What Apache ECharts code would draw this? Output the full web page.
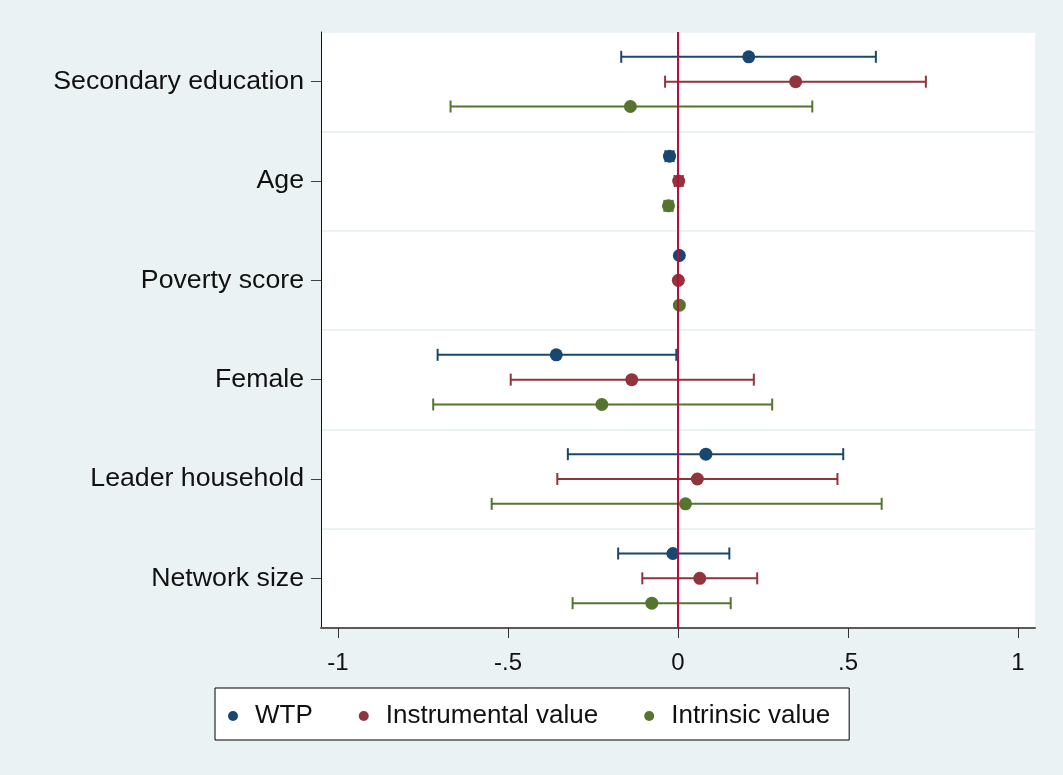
<!DOCTYPE html>
<html>
<head>
<meta charset="utf-8">
<script src="https://cdn.jsdelivr.net/npm/echarts@6/dist/echarts.min.js"></script>
<style>
  html, body { margin: 0; padding: 0; background: #eaf2f3; }
  #chart { width: 1063px; height: 775px; }
</style>
</head>
<body>
<div id="chart"></div>
<script>
const categories = ['Secondary education', 'Age', 'Poverty score', 'Female', 'Leader household', 'Network size']
const seriesNames = ['WTP', 'Instrumental value', 'Intrinsic value']

const wtpCoef = [0.208, -0.025, 0.004, -0.358, 0.082, -0.015]
const wtpLow = [-0.167, -0.037, 0.001, -0.707, -0.324, -0.176]
const wtpHigh = [0.582, -0.013, 0.007, -0.005, 0.486, 0.151]

const instrCoef = [0.346, 0.002, 0.001, -0.136, 0.057, 0.064]
const instrLow = [-0.038, -0.010, -0.002, -0.492, -0.355, -0.105]
const instrHigh = [0.729, 0.014, 0.004, 0.223, 0.469, 0.233]

const intrCoef = [-0.140, -0.028, 0.004, -0.224, 0.022, -0.077]
const intrLow = [-0.669, -0.040, 0.001, -0.720, -0.548, -0.310]
const intrHigh = [0.395, -0.016, 0.007, 0.277, 0.599, 0.155]

const xTickValues = [-1, -0.5, 0, 0.5, 1]
const xTickLabels = ['-1', '-.5', '0', '.5', '1']

const colors = ['#1a476f', '#90353b', '#55752f']
const font = "'Liberation Sans', Arial, sans-serif"

const groups = [
  { coef: wtpCoef, low: wtpLow, high: wtpHigh },
  { coef: instrCoef, low: instrLow, high: instrHigh },
  { coef: intrCoef, low: intrLow, high: intrHigh }
]
// vertical shift of each series inside a category band
const shifts = [-0.25, 0, 0.25]

const series = []
groups.forEach((g, k) => {
  const color = colors[k]
  series.push({
    name: seriesNames[k] + ' CI',
    type: 'custom',
    xAxisIndex: 0,
    yAxisIndex: 1,
    z: 2,
    silent: true,
    data: categories.map((c, i) => [g.low[i], g.high[i], i + 1 + shifts[k]]),
    encode: { x: [0, 1], y: 2 },
    renderItem: (params, api) => {
      const y = api.value(2)
      const lo = api.coord([api.value(0), y])
      const hi = api.coord([api.value(1), y])
      const h = 6
      const style = { stroke: color, lineWidth: 2 }
      return {
        type: 'group',
        children: [
          { type: 'line', shape: { x1: lo[0], y1: lo[1], x2: hi[0], y2: hi[1] }, style },
          { type: 'line', shape: { x1: lo[0], y1: lo[1] - h, x2: lo[0], y2: lo[1] + h }, style },
          { type: 'line', shape: { x1: hi[0], y1: hi[1] - h, x2: hi[0], y2: hi[1] + h }, style }
        ]
      }
    }
  })
  series.push({
    name: seriesNames[k],
    type: 'scatter',
    xAxisIndex: 0,
    yAxisIndex: 1,
    z: 4,
    symbol: 'circle',
    symbolSize: 13,
    itemStyle: { color: color, opacity: 1 },
    data: categories.map((c, i) => [g.coef[i], i + 1 + shifts[k]])
  })
})

// reference line at zero
series.push({
  name: 'ref',
  type: 'line',
  xAxisIndex: 0,
  yAxisIndex: 1,
  z: 3,
  data: [],
  markLine: {
    silent: true,
    symbol: 'none',
    label: { show: false },
    lineStyle: { color: '#c00a3c', width: 2, type: 'solid' },
    data: [{ xAxis: 0 }]
  }
})

const chart = echarts.init(document.getElementById('chart'))
chart.setOption({
  backgroundColor: '#eaf2f3',
  animation: false,
  textStyle: { fontFamily: font },
  grid: {
    left: 321,
    right: 28,
    top: 32,
    bottom: 147,
    show: true,
    backgroundColor: '#ffffff',
    borderWidth: 0
  },
  xAxis: {
    type: 'value',
    min: -1.05,
    max: 1.05,
    splitLine: { show: false },
    axisLine: { show: true, onZero: false, lineStyle: { color: '#5a5a5a', width: 2 } },
    axisTick: { show: true, length: 10, customValues: xTickValues, lineStyle: { color: '#333', width: 1 } },
    axisLabel: {
      customValues: xTickValues,
      margin: 23,
      fontSize: 24,
      color: '#111',
      fontFamily: font,
      formatter: (v) => {
        const idx = xTickValues.findIndex(t => Math.abs(t - v) < 1e-9)
        return idx >= 0 ? xTickLabels[idx] : ''
      }
    }
  },
  yAxis: [
    {
      type: 'category',
      data: categories,
      inverse: true,
      boundaryGap: true,
      axisLine: { show: true, onZero: false, lineStyle: { color: '#111', width: 1 } },
      axisTick: { show: true, alignWithLabel: true, length: 10, lineStyle: { color: '#444' } },
      axisLabel: { margin: 17, fontSize: 26.7, color: '#111', fontFamily: font, padding: [5, 0, 0, 0] },
      splitLine: { show: true, lineStyle: { color: '#eaf2f3', width: 2 } }
    },
    {
      type: 'value',
      min: 0.5,
      max: 6.5,
      inverse: true,
      show: false,
      axisLine: { onZero: false },
      splitLine: { show: false }
    }
  ],
  legend: {
    data: seriesNames,
    left: 215,
    top: 688,
    orient: 'horizontal',
    icon: 'circle',
    itemWidth: 10,
    itemHeight: 10,
    itemGap: 46,
    padding: [13, 19, 9, 13],
    backgroundColor: '#ffffff',
    borderColor: '#000000',
    borderWidth: 1,
    borderRadius: 0,
    textStyle: { fontSize: 26, color: '#111', fontFamily: font, lineHeight: 30, padding: [0, 0, 0, 12] }
  },
  series: series
})
</script>
</body>
</html>
